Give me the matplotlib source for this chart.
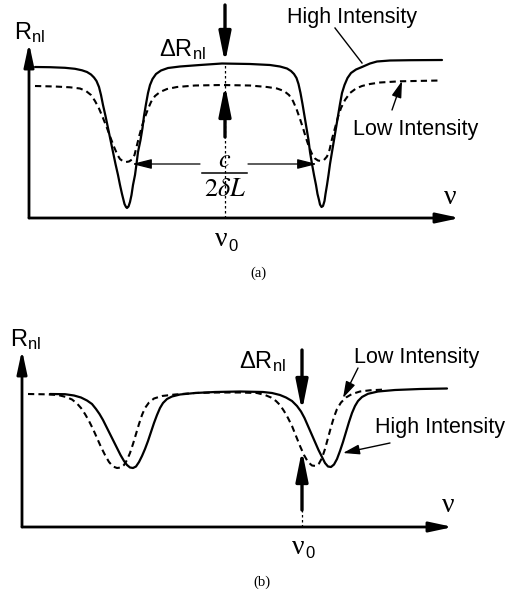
import matplotlib
matplotlib.use("Agg")
import matplotlib.pyplot as plt

plt.rcParams["font.family"] = ["Liberation Sans", "DejaVu Sans"]

# frequency axis (a.u.) and R_nl (a.u., zero on the frequency axis)
# ---- panel (a)
a_high_x = [35, 50, 65, 75, 82, 87, 91, 94, 96.5, 99, 101, 103, 105.5, 108, 110.5, 113, 115.5,
            118, 120, 122, 123.5, 124.5, 126, 127, 128.5, 130, 131.5, 133, 135, 136.5, 138,
            140.5, 142.5, 144, 146, 148, 150, 152.5, 156, 161, 168, 180, 200, 222, 250, 270,
            280, 287, 291, 294, 296.5, 298.5, 300.5, 302.5, 304.5, 306.5, 308.5, 310, 312,
            314, 316, 317.5, 319, 320, 321.5, 323, 324.5, 325.5, 327, 328.5, 330, 332, 334,
            336, 338, 340, 342, 344.5, 347.5, 351, 356, 362, 370, 377, 390, 410, 442]
a_high_y = [151, 150.8, 150.2, 149.2, 147.7, 146, 143.5, 140.5, 137, 131, 123, 113, 102, 90,
            78, 66, 54, 43, 33, 24, 18, 14, 11, 10, 11.5, 16, 23, 33, 43, 54, 66, 78, 90, 102,
            114, 125, 133, 139, 144, 147.5, 150, 151.5, 153, 154.5, 154, 153, 151.5, 149.5,
            147, 144, 140, 134, 125, 114, 102, 90, 78, 66, 54, 43, 33, 24, 18, 13.5, 11, 12,
            17, 24, 33, 43, 54, 66, 78, 90, 102, 114, 125, 133, 140, 145, 148.5, 151, 154.5,
            156.5, 157.5, 157.8, 158]
a_low_x = [35, 55, 70, 80, 86, 91, 95, 99, 103, 107, 111, 114.5, 117.5, 120, 123, 126, 129, 132,
           134.5, 137, 139.5, 142, 145, 148, 151, 155, 160, 167, 177, 195, 222, 250, 267, 277,
           284, 289, 293, 296.5, 300, 303, 306, 309, 312, 315, 318, 321, 324, 327, 329.5, 332,
           335, 338, 341, 345, 350, 356, 362, 370, 380, 400, 440]
a_low_y = [132, 131.5, 130.7, 129.5, 127, 123, 117, 109.5, 100, 90, 79, 70, 63, 59, 56.7, 56,
           56.5, 58.5, 63, 73, 83, 92, 101, 109, 116, 122, 126, 129, 131, 132.5, 133, 132.5,
           131, 129.5, 127, 123, 117, 109, 99, 90, 80, 71, 64, 59.5, 57.5, 57, 58, 61.5, 68,
           79, 90, 101, 110, 118, 125, 129.5, 132, 134, 135.5, 136.7, 137.5]

# ---- panel (b)
b_high_x = [50, 65, 74, 81, 87, 92, 96, 99.5, 103, 106.5, 110, 113.5, 117, 120.5, 124, 127, 130,
            133, 136, 139, 142, 145, 148, 151, 154, 157, 160, 163, 167, 172, 180, 195, 215, 240,
            263, 272, 280, 286, 292, 297, 301, 304.5, 308, 311.5, 315, 318.5, 322, 325, 328,
            331, 334, 337, 340, 343, 346, 349, 352, 355, 358, 362, 368, 378, 395, 420, 447]
b_high_y = [133, 132.8, 131.5, 129.5, 126.5, 123, 118, 113, 107, 100, 93, 86, 79, 72, 66, 62,
            59.5, 59, 60.5, 65, 71, 78, 86, 95, 104, 112, 119, 124, 128, 130.5, 132.5, 134, 135,
            135.5, 135, 134, 132, 129.5, 126, 121, 115.5, 109, 101, 93, 85, 77, 70, 64, 60.5,
            60, 62.5, 68, 76, 85, 95, 105, 114, 121, 126, 130, 133.2, 135.5, 137, 138, 138.5]
b_low_x = [28, 45, 58, 66, 72, 77, 81, 85, 89, 93, 97, 101, 105, 109, 113, 117, 121, 124, 127,
           130, 133, 136, 139, 142, 145, 149, 154, 162, 175, 195, 215, 240, 257, 265, 271, 276,
           280, 284, 288, 292, 296, 300, 304, 308, 312, 316, 319, 322, 325, 328, 331, 334, 337,
           341, 346, 352, 360, 370, 385]
b_low_y = [133, 132.7, 132, 130, 127.5, 123.5, 119, 113, 106, 98, 89, 80, 72, 65, 60.5, 59,
           59.5, 62, 67, 74, 83, 93, 103, 112, 119, 124.5, 128.5, 131, 132.5, 134, 134.5, 134.5,
           134, 132, 129.5, 126, 122, 116, 109, 101, 91, 81, 72, 65, 61.5, 61, 63.5, 69, 78, 89,
           100, 110, 118, 124.5, 129.5, 133, 135.5, 136.7, 137.5]

nu0_a = 225
nu0_b = 302
origin_a = 29
origin_b = 22


def arrow(ax, start, end, lw, hl, hw, ms=20):
    ax.annotate("", xy=end, xytext=start,
                arrowprops=dict(arrowstyle=f"-|>,head_length={hl},head_width={hw}",
                                lw=lw, color="k", shrinkA=0, shrinkB=0,
                                mutation_scale=ms))


def base_axes(fig, rect, ylim, x0, xtip, ytip):
    ax = fig.add_axes(rect)
    ax.set_xlim(0, 520)
    ax.set_ylim(*ylim)
    ax.axis("off")
    arrow(ax, (x0, 0), (xtip, 0), 2, 0.7, 0.15)
    arrow(ax, (x0, 0), (x0, ytip), 2, 0.7, 0.15)
    return ax


def nu_label(ax, x, y, zero=False):
    ax.text(x - (4 if zero else 0), y, "ν", fontsize=20, ha="center", va="center",
            family="Liberation Serif")
    if zero:
        ax.text(x + 8, y - 7, "0", fontsize=12, ha="center", va="center")


fig = plt.figure(figsize=(5.2, 5.93), dpi=100)
H = 593.0
solid = dict(color="k", lw=1.6, solid_capstyle="round", solid_joinstyle="round")
dashed = dict(color="k", lw=1.5, linestyle=(0, (3, 2)))
sub = r"$\mathregular{R_{nl}}$"
dsub = r"$\mathregular{\Delta R_{nl}}$"
lab = dict(fontsize=15.5, ha="center", va="center")

# ---------------- (a)
ax = base_axes(fig, [0, 1 - 295 / H, 1, 295 / H], (-77, 218), origin_a, 460, 175)
ax.plot(a_high_x, a_high_y, **solid)
ax.plot(a_low_x, a_low_y, **dashed)
ax.plot([nu0_a, nu0_a], [0, 155], color="k", lw=0.9, linestyle=(0, (2, 2)))
arrow(ax, (nu0_a, 213), (nu0_a, 155), 2.4, 0.9, 0.18)
arrow(ax, (nu0_a, 81), (nu0_a, 133), 2.4, 0.9, 0.18)
ax.text(182, 168, dsub, fontsize=17, ha="center", va="center")
ax.text(30, 185, sub, fontsize=17, ha="center", va="center")
nu_label(ax, 450, 20)
nu_label(ax, nu0_a, -22, zero=True)
ax.text(258, -55, "(a)", fontsize=10.5, ha="center", va="center", family="Liberation Serif")
ax.text(352, 200, "High Intensity", **lab)
ax.text(416, 88, "Low Intensity", **lab)
ax.plot([335, 362], [190, 155], color="k", lw=1)
arrow(ax, (392, 108), (402, 137), 1, 0.5, 0.15)
# c / 2 delta L
ax.text(nu0_a, 58, r"$c$", fontsize=19, ha="center", va="center", math_fontfamily="stix")
ax.plot([202, 247], [45, 45], color="k", lw=1.1)
ax.text(nu0_a, 29, r"$2\delta L$", fontsize=19, ha="center", va="center",
        math_fontfamily="stix")
arrow(ax, (200, 54), (132, 54), 0.9, 0.6, 0.15)
arrow(ax, (248, 54), (317, 54), 0.9, 0.6, 0.15)

# ---------------- (b)
ax = base_axes(fig, [0, 0, 1, 298 / H], (-66, 232), origin_b, 453, 177)
ax.plot(b_high_x, b_high_y, **solid)
ax.plot(b_low_x, b_low_y, **dashed)
ax.plot([nu0_b, nu0_b], [0, 17], color="k", lw=0.9, linestyle=(0, (2, 2)))
arrow(ax, (nu0_b, 177), (nu0_b, 116), 2.4, 0.9, 0.18)
arrow(ax, (nu0_b, 17), (nu0_b, 77), 2.4, 0.9, 0.18)
ax.text(262, 165, dsub, fontsize=17, ha="center", va="center")
ax.text(26, 187, sub, fontsize=17, ha="center", va="center")
nu_label(ax, 448, 22)
nu_label(ax, nu0_b, -20, zero=True)
ax.text(262, -55, "(b)", fontsize=10.5, ha="center", va="center", family="Liberation Serif")
ax.text(417, 169, "Low Intensity", **lab)
ax.text(440, 99, "High Intensity", **lab)
arrow(ax, (358, 159), (343, 129), 1, 0.5, 0.15)
arrow(ax, (390, 84), (343, 74), 1, 0.5, 0.15)

fig.savefig("out.png", dpi=100, facecolor="white")
